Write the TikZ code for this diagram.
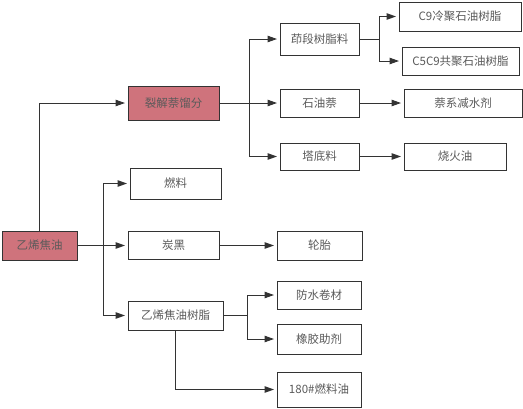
\documentclass[tikz,border=0pt]{standalone}
\usepackage{fontspec}
\newfontfamily\cjk{Noto Sans CJK SC}
\usetikzlibrary{arrows.meta}
\definecolor{rose}{RGB}{207,115,124}
\definecolor{ink}{RGB}{51,51,51}
\definecolor{txt}{RGB}{90,90,90}
\begin{document}
\begin{tikzpicture}[x = 1pt, y = -1pt,
        box/.style = {draw = ink, line width = 1pt, fill = white, inner sep = 0pt,
            font = \cjk\fontsize{11.5}{12}\selectfont, text = txt},
        hot/.style = {box, fill = rose},
        link/.style = {draw = ink, line width = 1pt, -{Triangle[length = 9.5pt, width = 6.5pt]}, shorten > = 2.5pt}]
    \useasboundingbox (0, 0) rectangle (523, 408);
    % sources
    \node[hot, minimum width = 75pt, minimum height = 29pt] (tar) at (39.5, 245.5) {乙烯焦油};
    \node[hot, minimum width = 91pt, minimum height = 34pt] (nap) at (173.5, 103) {裂解萘馏分};
    % naphtha branch
    \node[box, minimum width = 79pt, minimum height = 32pt] (ind) at (319.5, 39) {茚段树脂料};
    \node[box, minimum width = 122pt, minimum height = 29pt] (cold) at (460, 16.5) {C9冷聚石油树脂};
    \node[box, minimum width = 117pt, minimum height = 28pt] (copo) at (460.5, 61) {C5C9共聚石油树脂};
    \node[box, minimum width = 79pt, minimum height = 28pt] (pnap) at (319.5, 103) {石油萘};
    \node[box, minimum width = 118pt, minimum height = 28pt] (water) at (463, 103) {萘系减水剂};
    \node[box, minimum width = 79pt, minimum height = 27pt] (bottom) at (319.5, 156.5) {塔底料};
    \node[box, minimum width = 102pt, minimum height = 27pt] (kero) at (455, 156.5) {烧火油};
    % tar branch
    \node[box, minimum width = 91pt, minimum height = 31pt] (fuel) at (175.5, 183.5) {燃料};
    \node[box, minimum width = 91pt, minimum height = 28pt] (black) at (173.5, 245.5) {炭黑};
    \node[box, minimum width = 85pt, minimum height = 29pt] (tire) at (319.5, 245.5) {轮胎};
    \node[box, minimum width = 95pt, minimum height = 29pt] (resin) at (175.5, 315.5) {乙烯焦油树脂};
    \node[box, minimum width = 84pt, minimum height = 28pt] (roof) at (319, 295) {防水卷材};
    \node[box, minimum width = 84pt, minimum height = 30pt] (rubber) at (319, 339) {橡胶助剂};
    \node[box, minimum width = 84pt, minimum height = 35pt] (oil) at (319, 389.5) {180\#燃料油};
    % connectors
    \draw[link] (tar.north) |- (nap.west);
    \draw[link] (nap.east) -- ++(30, 0) |- (ind.west);
    \draw[link] (nap.east) -- (pnap.west);
    \draw[link] (nap.east) -- ++(30, 0) |- (bottom.west);
    \draw[link] (ind.east) -- ++(20, 0) |- (cold.west);
    \draw[link] (ind.east) -- ++(20, 0) |- (copo.west);
    \draw[link] (pnap.east) -- (water.west);
    \draw[link] (bottom.east) -- (kero.west);
    \draw[link] (tar.east) -- ++(26, 0) |- (fuel.west);
    \draw[link] (tar.east) -- (black.west);
    \draw[link] (tar.east) -- ++(26, 0) |- (resin.west);
    \draw[link] (black.east) -- (tire.west);
    \draw[link] (resin.east) -- ++(24, 0) |- (roof.west);
    \draw[link] (resin.east) -- ++(24, 0) |- (rubber.west);
    \draw[link] (resin.south) |- (oil.west);
\end{tikzpicture}
\end{document}
